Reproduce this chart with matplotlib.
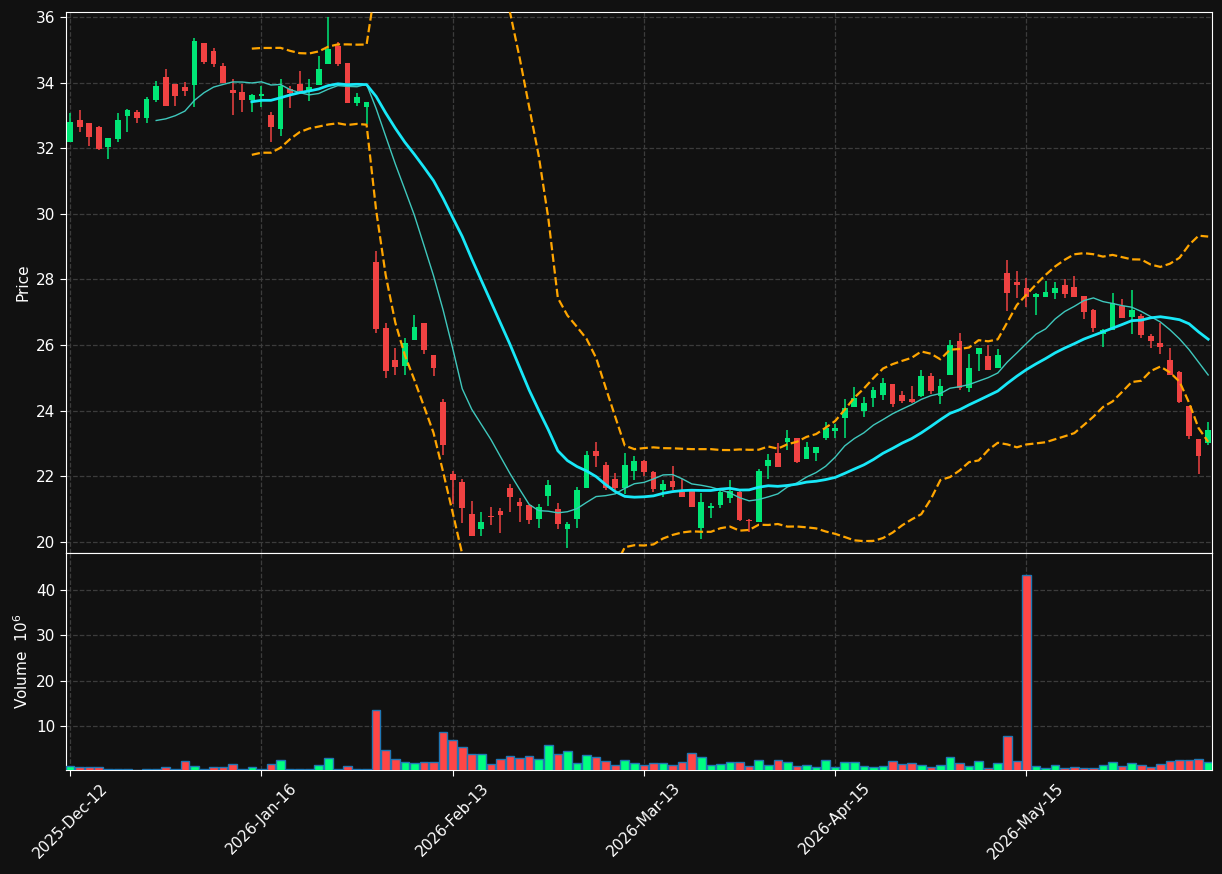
import matplotlib
matplotlib.use("Agg")
import matplotlib.pyplot as plt
import numpy as np
import pandas as pd

# OHLC (one row per trading day, index 0..119)
opens = [32.20, 32.86, 32.77, 32.65, 32.04, 32.29, 32.98, 33.10, 32.93, 33.47,
         34.17, 33.96, 33.87, 33.94, 35.21, 34.96, 34.51, 33.78, 33.71, 33.47,
         33.59, 33.00, 32.59, 33.81, 33.96, 33.78, 33.94, 34.58, 35.12, 34.60,
         33.39, 33.24, 28.52, 26.52, 25.53, 25.35, 26.14, 26.67, 25.69, 24.27,
         22.08, 21.81, 20.86, 20.38, 20.79, 20.94, 21.63, 21.22, 21.12, 20.70,
         21.39, 21.01, 20.40, 20.70, 21.63, 22.77, 22.35, 21.92, 21.63, 22.16,
         22.46, 22.14, 21.57, 21.85, 21.52, 21.54, 20.42, 21.03, 21.12, 21.35,
         21.51, 20.68, 20.62, 22.31, 22.72, 23.04, 23.16, 22.52, 22.71, 23.16,
         23.38, 23.78, 24.12, 24.00, 24.39, 24.47, 24.81, 24.47, 24.35, 24.45,
         25.05, 24.45, 25.09, 26.12, 24.69, 25.73, 25.66, 25.30, 28.19, 27.92,
         27.73, 27.47, 27.47, 27.59, 27.83, 27.77, 27.49, 27.08, 26.35, 26.45,
         27.20, 26.84, 26.89, 26.27, 26.05, 25.54, 25.19, 24.13, 23.12, 23.00]
highs = [33.06, 33.17, 32.78, 32.66, 32.32, 33.06, 33.18, 33.17, 33.55, 34.04,
         34.40, 33.97, 34.01, 35.35, 35.22, 35.04, 34.59, 34.10, 33.96, 33.65,
         33.88, 33.09, 34.10, 33.90, 34.34, 34.10, 34.81, 35.99, 35.25, 34.61,
         33.69, 33.41, 28.86, 26.67, 25.90, 26.20, 26.92, 26.68, 25.70, 24.36,
         22.16, 21.92, 21.26, 20.92, 21.06, 21.03, 21.77, 21.33, 21.13, 21.15,
         21.87, 21.17, 20.62, 21.67, 22.77, 23.05, 22.43, 22.11, 22.72, 22.61,
         22.48, 22.15, 21.90, 22.30, 21.91, 21.55, 21.49, 21.19, 21.58, 21.90,
         21.55, 20.70, 22.23, 22.69, 23.00, 23.42, 23.17, 23.03, 22.89, 23.66,
         23.58, 24.36, 24.71, 24.40, 24.71, 24.98, 24.82, 24.59, 24.75, 25.23,
         25.16, 24.95, 26.15, 26.38, 25.74, 25.91, 25.99, 25.89, 28.58, 28.27,
         28.03, 27.57, 27.96, 27.93, 28.00, 28.10, 27.50, 27.09, 26.48, 27.57,
         27.39, 27.69, 26.93, 26.35, 26.68, 25.92, 25.20, 24.14, 23.13, 23.64]
lows = [32.18, 32.50, 32.08, 31.93, 31.66, 32.20, 32.50, 32.78, 32.78, 33.40,
        33.30, 33.30, 33.60, 33.25, 34.57, 34.47, 33.98, 33.00, 33.09, 33.09,
        33.25, 32.20, 32.38, 33.21, 33.70, 33.45, 33.94, 34.58, 34.49, 33.38,
        33.30, 32.74, 26.38, 25.00, 25.10, 25.10, 26.14, 25.74, 25.05, 22.65,
        21.15, 20.56, 20.19, 20.17, 20.51, 20.28, 20.92, 20.62, 20.55, 20.42,
        21.09, 20.40, 19.81, 20.42, 21.63, 22.27, 21.58, 21.58, 21.47, 21.90,
        22.00, 21.52, 21.37, 21.59, 21.37, 21.06, 20.09, 20.73, 21.04, 21.19,
        20.63, 20.30, 20.60, 21.93, 22.28, 22.79, 22.39, 22.52, 22.47, 23.11,
        23.16, 23.18, 24.12, 23.81, 24.12, 24.32, 24.12, 24.22, 24.22, 24.40,
        24.52, 24.19, 25.09, 24.64, 24.57, 25.20, 25.25, 25.30, 27.04, 27.44,
        27.15, 26.90, 27.47, 27.39, 27.42, 27.47, 26.78, 26.40, 25.95, 26.45,
        26.81, 26.35, 26.20, 25.92, 25.74, 25.09, 24.22, 23.12, 22.08, 22.94]
closes = [32.80, 32.63, 32.35, 31.98, 32.31, 32.86, 33.17, 32.93, 33.50, 33.90,
          33.30, 33.60, 33.74, 35.27, 34.63, 34.57, 33.98, 33.69, 33.47, 33.62,
          33.65, 32.63, 33.90, 33.69, 33.74, 33.87, 34.40, 35.01, 34.55, 33.38,
          33.55, 33.40, 26.49, 25.21, 25.34, 26.06, 26.54, 25.85, 25.30, 22.94,
          21.90, 21.04, 20.19, 20.62, 20.76, 20.83, 21.36, 21.09, 20.67, 21.06,
          21.72, 20.54, 20.53, 21.57, 22.65, 22.62, 21.63, 21.64, 22.35, 22.46,
          22.13, 21.60, 21.75, 21.67, 21.37, 21.06, 21.21, 21.08, 21.51, 21.54,
          20.67, 20.64, 22.15, 22.48, 22.28, 23.16, 22.43, 22.88, 22.88, 23.46,
          23.46, 24.08, 24.38, 24.23, 24.63, 24.84, 24.20, 24.30, 24.25, 25.05,
          24.59, 24.74, 25.99, 24.70, 25.29, 25.90, 25.25, 25.71, 27.59, 27.84,
          27.47, 27.55, 27.61, 27.73, 27.56, 27.47, 27.01, 26.52, 26.47, 27.27,
          26.81, 27.08, 26.32, 26.13, 25.94, 25.09, 24.25, 23.23, 22.62, 23.40]
# volume in millions
volumes = [1.10, 0.88, 0.88, 0.88, 0.59, 0.59, 0.42, 0.36, 0.42, 0.59,
           0.88, 0.59, 2.21, 1.10, 0.59, 0.88, 0.88, 1.54, 0.59, 0.88,
           0.42, 1.54, 2.43, 0.59, 0.59, 0.42, 1.32, 2.87, 0.42, 1.10,
           0.59, 0.59, 13.46, 4.63, 2.65, 1.99, 1.76, 1.99, 1.99, 8.60,
           6.84, 5.30, 3.75, 3.75, 1.54, 2.65, 3.31, 2.87, 3.31, 2.65,
           5.74, 3.75, 4.41, 1.76, 3.53, 3.09, 2.21, 1.32, 2.43, 1.76,
           1.32, 1.76, 1.76, 1.32, 1.99, 3.97, 3.09, 1.32, 1.54, 1.99,
           1.99, 1.10, 2.43, 1.32, 2.43, 1.99, 1.10, 1.32, 0.88, 2.43,
           0.88, 1.99, 1.99, 1.10, 0.88, 1.10, 2.21, 1.54, 1.76, 1.32,
           0.88, 1.32, 3.09, 1.76, 1.10, 2.21, 0.66, 1.76, 7.72, 2.21,
           43.30, 1.10, 0.66, 1.32, 0.66, 0.88, 0.66, 0.66, 1.32, 1.99,
           1.10, 1.76, 1.32, 0.88, 1.54, 2.21, 2.43, 2.43, 2.65, 1.99]

tick_pos = [0, 20, 40, 60, 80, 100]
tick_labels = ["2025-Dec-12", "2026-Jan-16", "2026-Feb-13",
               "2026-Mar-13", "2026-Apr-15", "2026-May-15"]

BG = "#111111"
UP, DOWN = "#00e676", "#ef4242"
VUP, VDOWN = "#00ff80", "#ff4646"
GRID = "#3c3c3c"


def style_axis(ax):
    ax.set_facecolor(BG)
    for s in ax.spines.values():
        s.set_color("white")
    ax.tick_params(colors="white", labelsize=11, direction="out", length=4)
    ax.grid(True, color=GRID, linestyle="--", linewidth=0.9)
    ax.set_axisbelow(True)


df = pd.DataFrame({"open": opens, "high": highs, "low": lows,
                   "close": closes, "volume": volumes})
x = np.arange(len(df))
up = df["close"] >= df["open"]
ma10 = df["close"].rolling(10).mean()
ma20 = df["close"].rolling(20).mean()
sd20 = df["close"].rolling(20).std(ddof=0)

fig = plt.figure(figsize=(12.22, 8.74), dpi=100, facecolor=BG)
ax = fig.add_axes([66 / 1222, 321 / 874, 1146 / 1222, 541 / 874])
axv = fig.add_axes([66 / 1222, 104 / 874, 1146 / 1222, 217 / 874], sharex=ax)
style_axis(ax)
style_axis(axv)

colors = np.where(up, UP, DOWN)
ax.vlines(x, df["low"], df["high"], colors=colors, linewidth=1.1, zorder=2)
body_lo = np.minimum(df["open"], df["close"])
body_h = np.maximum(np.abs(df["close"] - df["open"]), 0.03)
ax.bar(x, body_h, bottom=body_lo, width=0.6, color=colors, linewidth=0, zorder=3)

ax.plot(x, ma10, color="#3fc8bd", linewidth=1.0, zorder=4)
ax.plot(x, ma20, color="#18e8f8", linewidth=2.0, zorder=4)
ax.plot(x, ma20 + 2 * sd20, color="#ffa500", linewidth=1.6, linestyle="--", zorder=4)
ax.plot(x, ma20 - 2 * sd20, color="#ffa500", linewidth=1.6, linestyle="--", zorder=4)

ax.set_ylim(19.66, 36.15)
ax.set_yticks(np.arange(20, 37, 2))
ax.set_ylabel("Price", color="white", fontsize=11)
ax.tick_params(axis="x", labelbottom=False, length=0)

axv.bar(x, df["volume"], width=0.9, color=np.where(up, VUP, VDOWN),
        edgecolor="#1f77b4", linewidth=1.0, zorder=3)
axv.set_ylim(0.3, 48.15)
axv.set_yticks([10, 20, 30, 40])
axv.set_ylabel("Volume  $10^{6}$", color="white", fontsize=11)

axv.set_xlim(-0.43, 119.4)
axv.set_xticks(tick_pos)
axv.set_xticklabels(tick_labels, rotation=45, ha="center")

fig.savefig("out.png", dpi=100, facecolor=BG)
